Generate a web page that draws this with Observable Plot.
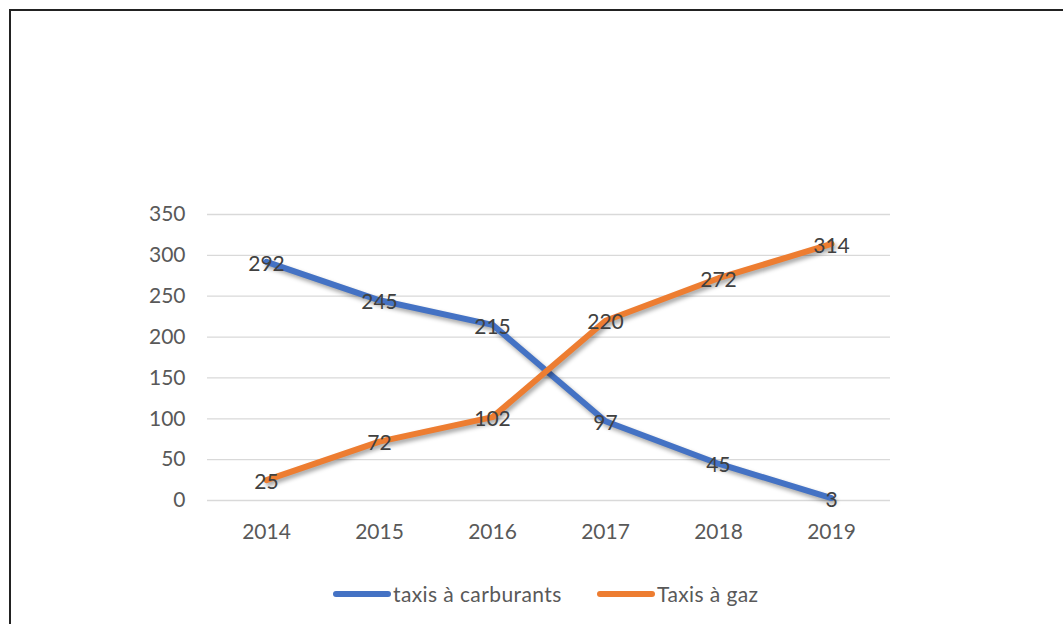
<!DOCTYPE html>
<html><head><meta charset="utf-8">
<script src="https://cdn.jsdelivr.net/npm/d3@7"></script>
<script src="https://cdn.jsdelivr.net/npm/@observablehq/plot@0.6"></script>
<style>
body{margin:0;background:#fff;font-family:Lato,"Open Sans",sans-serif;}
#wrap{position:relative;width:1063px;height:624px;overflow:hidden;}
#frame{position:absolute;left:9px;top:9px;width:1100px;height:700px;border-left:2px solid #222;border-top:2px solid #222;box-sizing:border-box;}
#chart{position:absolute;left:0;top:0;}
.shadow path{filter:drop-shadow(2px 3px 2px rgba(0,0,0,0.35));}
.leg{position:absolute;top:581px;display:flex;align-items:center;font-size:21px;color:#595959;letter-spacing:0.4px;white-space:nowrap;}
.sw{display:inline-block;width:58px;height:6px;border-radius:3px;margin-right:2px;}
</style></head><body>
<div id="wrap"><div id="frame"></div><div id="chart"></div>
<div class="leg" style="left:333px"><span class="sw" style="background:#4472C4"></span><span id="l0"></span></div>
<div class="leg" style="left:597px"><span class="sw" style="background:#ED7D31"></span><span id="l1"></span></div>
</div>
<script>
const years = ["2014","2015","2016","2017","2018","2019"];
const carburants = [292,245,215,97,45,3];
const gaz = [25,72,102,220,272,314];
const seriesNames = ["taxis à carburants","Taxis à gaz"];
const colors = ["#4472C4","#ED7D31"];
const yTicks = [0,50,100,150,200,250,300,350];

document.getElementById("l0").textContent = seriesNames[0];
document.getElementById("l1").textContent = seriesNames[1];

const data = [];
years.forEach((y,i)=>{
  data.push({year:y, value:carburants[i], series:seriesNames[0]});
  data.push({year:y, value:gaz[i], series:seriesNames[1]});
});

const chart = Plot.plot({
  width:1063, height:624,
  marginLeft:207, marginRight:173, marginTop:214, marginBottom:124,
  style:{fontFamily:"Lato, 'Open Sans', sans-serif", background:"transparent"},
  x:{type:"point", domain:years, padding:0.5},
  y:{domain:[0,350]},
  color:{domain:seriesNames, range:colors},
  marks:[
    Plot.ruleY(yTicks,{stroke:"#d9d9d9",strokeWidth:1.3}),
    Plot.axisY({ticks:yTicks, tickSize:0, tickPadding:22, fontSize:21, fill:"#595959", label:null}),
    Plot.axisX({tickSize:0, tickPadding:24, fontSize:21, fill:"#595959", label:null}),
    Plot.line(data,{x:"year", y:"value", z:"series", stroke:"series", strokeWidth:6, strokeLinecap:"round", strokeLinejoin:"round", className:"shadow"}),
    Plot.text(data,{x:"year", y:"value", text:d=>String(d.value), fontSize:21, fill:"#404040", dy:2})
  ]
});
document.getElementById("chart").appendChild(chart);
</script>
</body></html>
